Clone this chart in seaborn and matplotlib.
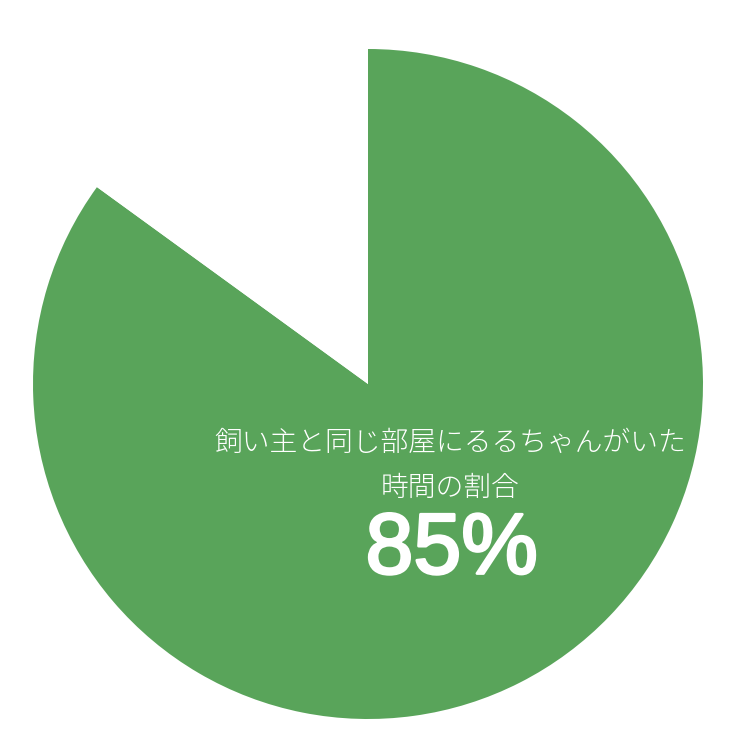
import seaborn as sns
import matplotlib.pyplot as plt
import matplotlib.patheffects as pe

# データ
labels = ['いた', 'いない']
values = [85, 15]
colors = ['#59a45a', '#ffffff']
caption_lines = ['飼い主と同じ部屋にるるちゃんがいた', '時間の割合']
pct_text = '85%'

sns.set_theme(style='white')
plt.rcParams['font.family'] = ['Noto Sans CJK JP', 'DejaVu Sans']

fig = plt.figure(figsize=(7.38, 7.46), dpi=100)
ax = fig.add_axes([33 / 738, (746 - 719) / 746, 670 / 738, 670 / 746])

ax.pie(values, colors=colors, startangle=90, counterclock=False, radius=1,
       wedgeprops={'linewidth': 0})
ax.set_xlim(-1, 1)
ax.set_ylim(-1, 1)
ax.axis('off')

ax.text(0.245, -0.176, caption_lines[0], ha='center', va='center',
        fontsize=20, color='white', fontweight='light')
ax.text(0.245, -0.31, caption_lines[1], ha='center', va='center',
        fontsize=20, color='white', fontweight='light')
ax.text(0.25, -0.5, pct_text, ha='center', va='center',
        fontsize=62, color='white', family='Liberation Sans',
        path_effects=[pe.withStroke(linewidth=2, foreground='white')])

plt.savefig('out.png', dpi=100)
